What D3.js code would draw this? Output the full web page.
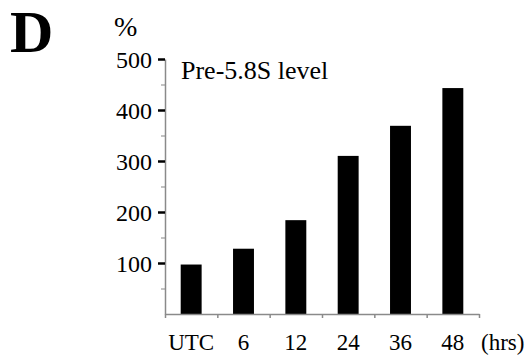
<!DOCTYPE html>
<html>
<head>
<meta charset="utf-8">
<script src="https://cdn.jsdelivr.net/npm/d3@7/dist/d3.min.js"></script>
</head>
<body style="margin:0;background:#fff">
<svg id="chart" width="532" height="355" font-family="Liberation Serif" style="font-family:'Liberation Serif'"></svg>
<script>
// Pre-5.8S rRNA level over time (% of untreated control)
const categories = ["UTC", "6", "12", "24", "36", "48"];
const values = [97, 128, 184, 310, 369, 443];
const yTickValues = [100, 200, 300, 400, 500];
const yMinorTickValues = [50, 150, 250, 350, 450];

const svg = d3.select("#chart");

const x = d3.scaleBand()
  .domain(categories)
  .range([165, 479])
  .paddingInner(0.6)
  .paddingOuter(0.3);

const y = d3.scaleLinear().domain([0, 500]).range([314, 59]);

// boundary scale for the x-axis tick marks between bars
const xEdges = d3.scaleLinear().domain([0, categories.length]).range(x.range());

// bars
svg.append("g")
  .selectAll("rect")
  .data(values)
  .join("rect")
  .attr("x", (d, i) => x(categories[i]))
  .attr("width", x.bandwidth())
  .attr("y", d => y(d))
  .attr("height", d => y(0) - y(d))
  .attr("fill", "#000");

// x axis: gray line with short downward ticks at bar boundaries
const xAxis = svg.append("g")
  .attr("transform", `translate(0,${y(0)})`)
  .call(d3.axisBottom(xEdges)
    .tickValues(d3.range(categories.length + 1))
    .tickSize(4)
    .tickSizeOuter(0)
    .tickFormat(""));
xAxis.attr("font-family", null);
xAxis.select(".domain").attr("stroke", "#8a8a8a").attr("stroke-width", 1.5);
xAxis.selectAll(".tick line").attr("stroke", "#8a8a8a").attr("stroke-width", 1.5);

// x category labels
svg.append("g")
  .selectAll("text")
  .data(categories)
  .join("text")
  .attr("x", d => x(d) + x.bandwidth() / 2)
  .attr("y", 350)
  .attr("text-anchor", "middle")
  .attr("font-size", 23)
  .text(d => d);

svg.append("text")
  .attr("x", 481)
  .attr("y", 350)
  .attr("font-size", 23)
  .text("(hrs)");

// y axis minor ticks
const yMinor = svg.append("g")
  .attr("transform", "translate(165,0)")
  .call(d3.axisLeft(y).tickValues(yMinorTickValues).tickSize(4).tickSizeOuter(0).tickFormat(""));
yMinor.attr("font-family", null);
yMinor.select(".domain").remove();
yMinor.selectAll(".tick line").attr("stroke", "#9a9a9a").attr("stroke-width", 1.2);

// y axis with major ticks and labels
const yAxis = svg.append("g")
  .attr("transform", "translate(165,0)")
  .call(d3.axisLeft(y).tickValues(yTickValues).tickSize(7).tickSizeOuter(0).tickPadding(6));
yAxis.attr("font-family", null).attr("font-size", 24);
yAxis.select(".domain").attr("stroke", "#8a8a8a").attr("stroke-width", 1.5);
yAxis.selectAll(".tick line").attr("stroke", "#000").attr("stroke-width", 2.5);
yAxis.selectAll(".tick text").attr("dy", "0.34em");

// unit label
svg.append("text")
  .attr("x", 114)
  .attr("y", 36)
  .attr("font-size", 28)
  .text("%");

// panel letter
svg.append("text")
  .attr("x", 10)
  .attr("y", 52)
  .attr("font-size", 60)
  .attr("font-weight", "bold")
  .text("D");

// chart title
svg.append("text")
  .attr("x", 181)
  .attr("y", 79)
  .attr("font-size", 26)
  .text("Pre-5.8S level");
</script>
</body>
</html>
